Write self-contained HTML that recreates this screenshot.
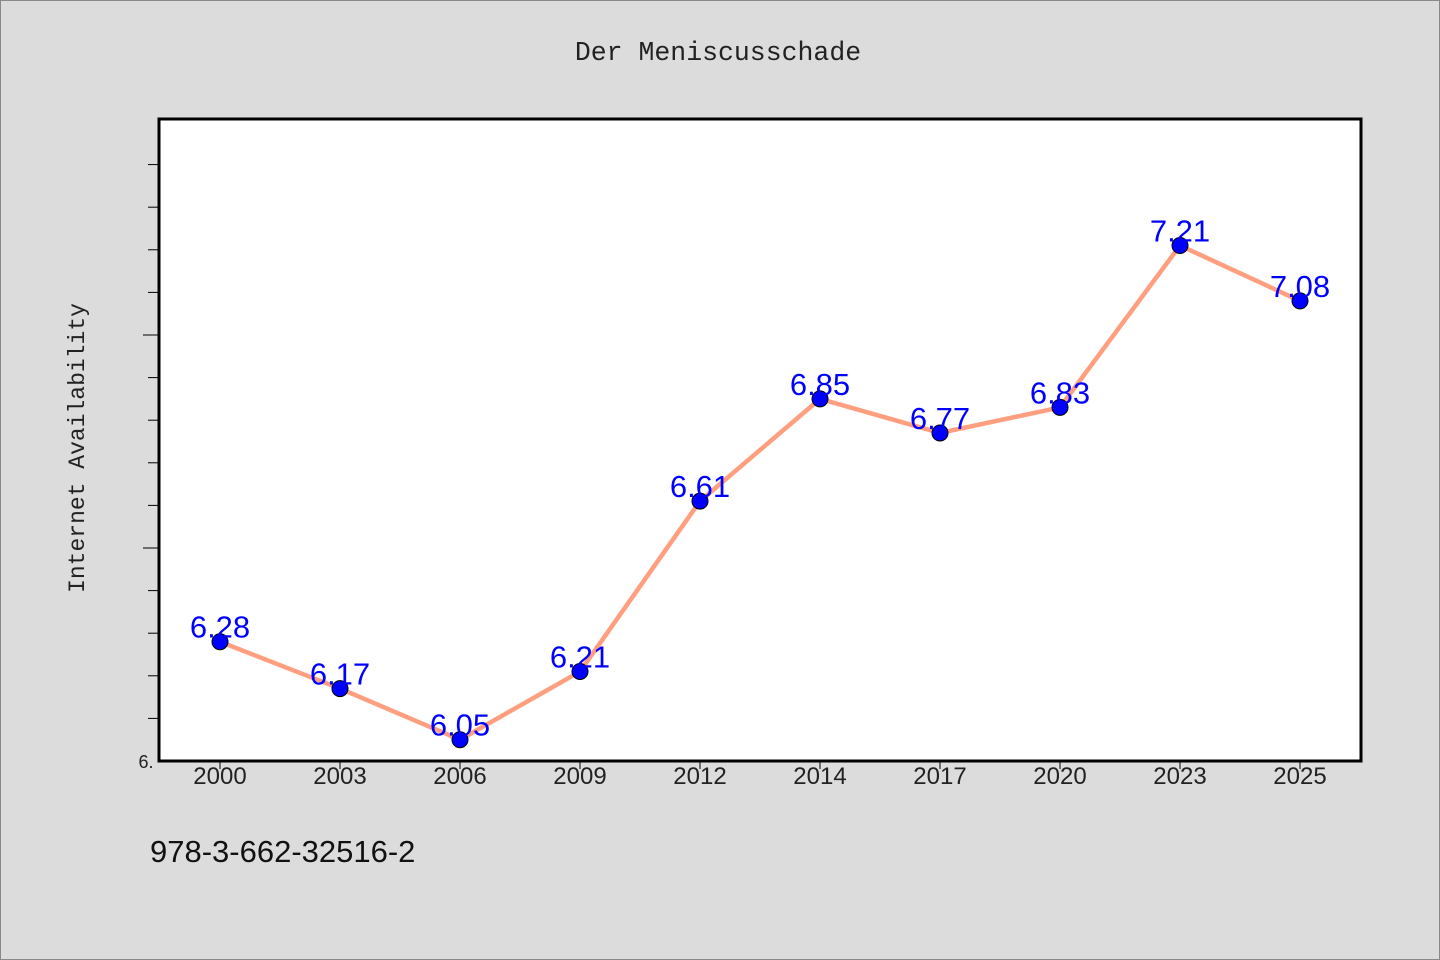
<!DOCTYPE html>
<html><head><meta charset="utf-8">
<style>
html,body{margin:0;padding:0;background:#dcdcdc;}
svg{display:block;}
</style></head>
<body>
<svg width="1440" height="960" xmlns="http://www.w3.org/2000/svg">
<rect x="0.5" y="0.5" width="1439" height="959" fill="#dcdcdc" stroke="#888"/>
<text x="718" y="60" text-anchor="middle" font-family="'Liberation Mono', monospace" font-size="26.5" fill="#222">Der Meniscusschade</text>
<rect x="159" y="119" width="1202" height="642" fill="#fff" stroke="#000" stroke-width="3"/>
<text transform="translate(84,448) rotate(-90)" text-anchor="middle" font-family="'Liberation Mono', monospace" font-size="23" fill="#222">Internet Availability</text>
<text x="146" y="768" text-anchor="middle" font-family="'Liberation Sans', sans-serif" font-size="18" fill="#222">6.</text>
<text x="150" y="862" font-family="'Liberation Sans', sans-serif" font-size="31" fill="#111">978-3-662-32516-2</text>
<g id="g"></g>
</svg>
<script>
const categories = ["2000","2003","2006","2009","2012","2014","2017","2020","2023","2025"];
const values = [6.28,6.17,6.05,6.21,6.61,6.85,6.77,6.83,7.21,7.08];
const yMin = 6.0, yMax = 7.507;
const NS = "http://www.w3.org/2000/svg";
const g = document.getElementById('g');
const L=159, R=1361, T=119, B=761;
function xs(i){return 220 + i*(1300-220)/(categories.length-1);}
function ys(v){return B - (v-yMin)/(yMax-yMin)*(B-T);}
function mk(tag, attrs){const e=document.createElementNS(NS,tag);for(const k in attrs)e.setAttribute(k,attrs[k]);g.appendChild(e);return e;}
for(let k=1;ys(yMin+k*0.1)>T+20;k++){
  const v=yMin+k*0.1, y=ys(v), major=(k%5===0);
  const t=mk('line',{x1:L-(major?16:11),x2:L,y1:y,y2:y,stroke:'#000','stroke-width':1});
  
  
}
categories.forEach((c,i)=>{
  const t=mk('line',{x1:xs(i),x2:xs(i),y1:B,y2:B+8,stroke:'#000','stroke-width':1});
  
  
  const tx=mk('text',{x:xs(i),y:784,'text-anchor':'middle','font-family':"'Liberation Sans', sans-serif",'font-size':24,fill:'#222'});
  tx.textContent=c;
  
  
});
const pl=mk('polyline',{points:values.map((v,i)=>xs(i)+','+ys(v)).join(' '),fill:'none',stroke:'#ff9f7f','stroke-width':4.5,'stroke-linejoin':'round'});


values.forEach((v,i)=>{
  const c=mk('circle',{cx:xs(i),cy:ys(v),r:8,fill:'#0000ff',stroke:'#000','stroke-width':1});
  
  
  const t=mk('text',{x:xs(i),y:ys(v)-4,'text-anchor':'middle','font-family':"'Liberation Sans', sans-serif",'font-size':31,fill:'#0000ff'});
  t.textContent=v.toFixed(2);
  
  
});
</script>
</body></html>
